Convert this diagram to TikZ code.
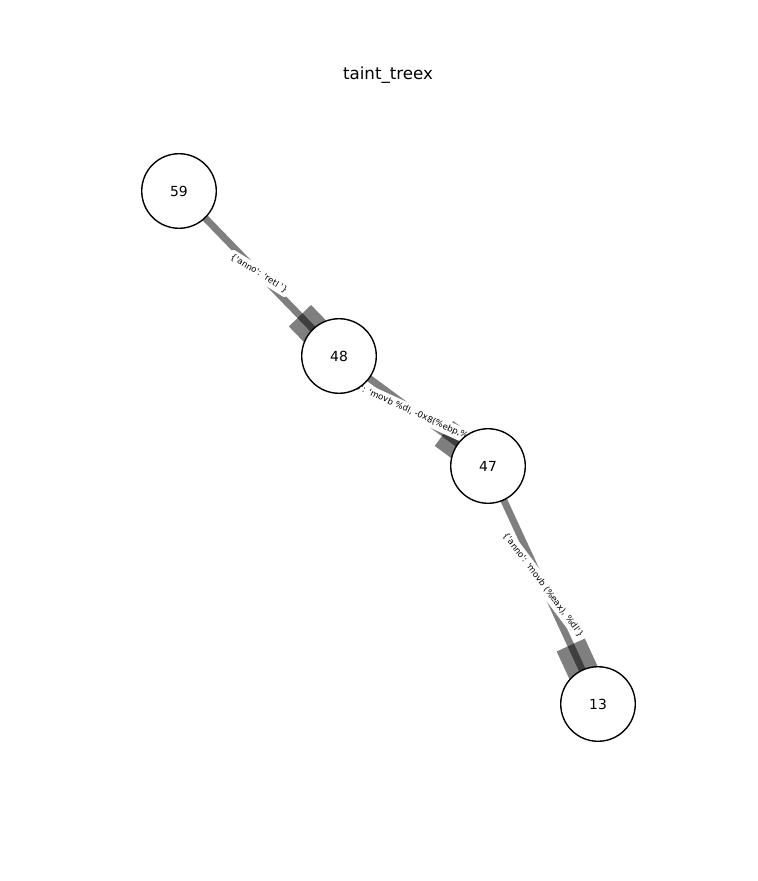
\documentclass[tikz,border=0pt]{standalone}
\usepackage{fontspec}
\setmainfont{DejaVu Sans}[Ligatures=TeXOff]
\usepackage{tikz}
\usetikzlibrary{backgrounds}

\tikzset{
  vozel/.style={circle, draw=black, line width=1pt, fill=white, minimum size=53.7pt, inner sep=0pt, font=\fontsize{10}{12}\selectfont},
  povezava/.style={draw=black, draw opacity=0.5, line width=5pt},
  koncnica/.style={rectangle, fill=black, fill opacity=0.5, minimum width=24.5pt, minimum height=22.3pt, inner sep=0pt},
  oznaka/.style={fill=white, rounded corners=1.8pt, inner sep=1.8pt, text height=4.9pt, text depth=1.4pt, font=\fontsize{6.2}{7}\selectfont}
}

\begin{document}
\begin{tikzpicture}[x=0.72pt, y=-0.72pt]
                \useasboundingbox (0, 0) rectangle (758, 881);
                % naslov
                \node (naslov) at (388, 75) {\fontsize{12}{14}\selectfont taint\_treex};

                % vozlisca
                \node (n59) at (179, 191) [vozel] {59};
                \node (n48) at (339, 356) [vozel] {48};
                \node (n47) at (488, 466) [vozel] {47};
                \node (n13) at (598, 704) [vozel] {13};

                % povezave z oznakami
                \begin{scope}[on background layer]
                \draw[povezava] (n59.center) -- (n48.center);
                \path (n59.center) -- node[koncnica, pos=0.83, sloped] (k1) {} (n48.center);
                \path (n59.center) -- node[oznaka, rotate=-32] (o1) {\{'anno': 'retl '\}} (n48.center);

                \draw[povezava] (n48.center) -- (n47.center);
                \path (n48.center) -- node[koncnica, pos=0.796, sloped] (k2) {} (n47.center);
                \path (n48.center) -- node[oznaka, rotate=-24.5, yshift=-1pt] (o2) {\{'anno': 'movb \%dl, -0x8(\%ebp,\%eax)'\}} (n47.center);

                \draw[povezava] (n47.center) -- (n13.center);
                \path (n47.center) -- node[koncnica, pos=0.817, sloped] (k3) {} (n13.center);
                \path (n47.center) -- node[oznaka, rotate=-53] (o3) {\{'anno': 'movb (\%eax), \%dl'\}} (n13.center);
                \end{scope}
            \end{tikzpicture}
\end{document}
